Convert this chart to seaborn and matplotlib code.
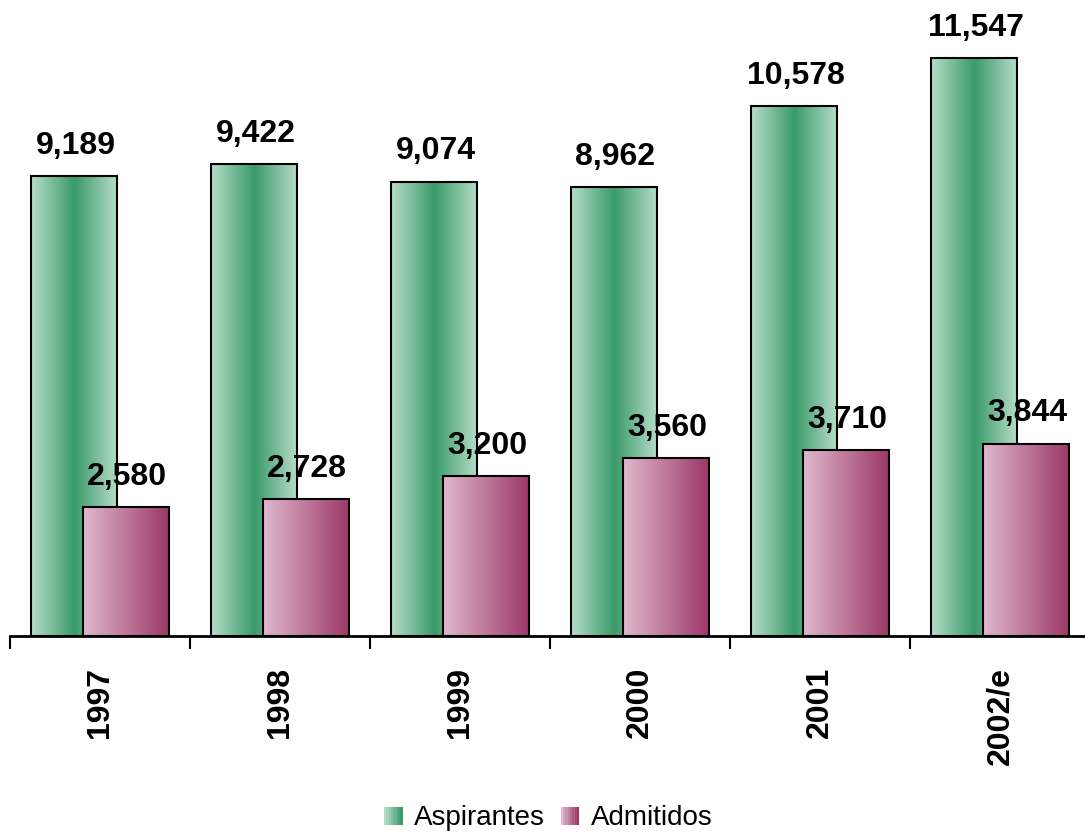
import numpy as np
import pandas as pd
import matplotlib
matplotlib.use('Agg')
import matplotlib.pyplot as plt
import seaborn as sns
from matplotlib.colors import LinearSegmentedColormap
from matplotlib.legend_handler import HandlerBase
from matplotlib.patches import Rectangle, Patch

# Data
years = ['1997', '1998', '1999', '2000', '2001', '2002/e']
aspirantes = [9189, 9422, 9074, 8962, 10578, 11547]
admitidos = [2580, 2728, 3200, 3560, 3710, 3844]
series_names = ['Aspirantes', 'Admitidos']

df = pd.DataFrame({
    'year': years * 2,
    'serie': ['Aspirantes'] * len(years) + ['Admitidos'] * len(years),
    'value': aspirantes + admitidos,
})

sns.set_style('white')
plt.rcParams['font.family'] = ['Liberation Sans', 'DejaVu Sans']
plt.rcParams['text.color'] = 'black'
plt.rcParams['xtick.color'] = 'black'
plt.rcParams['xtick.labelcolor'] = 'black'

green_cmap = LinearSegmentedColormap.from_list('g', ['#b7ddc9', '#3a9a6a', '#b7ddc9'])
green_half = LinearSegmentedColormap.from_list('gh', ['#b7ddc9', '#3a9a6a'])
pink_cmap = LinearSegmentedColormap.from_list('p', ['#e0b9cd', '#9b3767'])
cmaps = {'Aspirantes': green_cmap, 'Admitidos': pink_cmap}


class GradientHandler(HandlerBase):
    def __init__(self, cmap, n=8):
        super().__init__()
        self.cmap = cmap
        self.n = n

    def create_artists(self, legend, orig_handle, xdescent, ydescent,
                       width, height, fontsize, trans):
        side = height * 0.95
        x0 = -xdescent + width - side
        y0 = -ydescent
        w = side / self.n
        arts = []
        for i in range(self.n):
            r = Rectangle((x0 + i * w, y0), w * 1.05, side,
                          facecolor=self.cmap(i / (self.n - 1)),
                          edgecolor='none', transform=trans)
            arts.append(r)
        return arts


fig = plt.figure(figsize=(10.85, 8.34), dpi=100)
ax = fig.add_axes([10 / 1085, 198 / 834, 1080 / 1085, 636 / 834])

sns.barplot(data=df, x='year', y='value', hue='serie', order=years,
            hue_order=series_names, ax=ax, legend=False, errorbar=None)

bar_w = 0.478
offsets = {'Aspirantes': -0.144, 'Admitidos': 0.144}
patches = list(ax.patches)
n = len(years)
grad = np.linspace(0, 1, 256).reshape(1, -1)
for k, name in enumerate(series_names):
    for i in range(n):
        p = patches[k * n + i]
        h = p.get_height()
        x0 = i + offsets[name] - bar_w / 2
        p.set_x(x0)
        p.set_width(bar_w)
        p.set_facecolor('none')
        p.set_edgecolor('black')
        p.set_linewidth(1.5)
        p.set_zorder(2 + k + 0.5)
        ax.imshow(grad, extent=[x0, x0 + bar_w, 0, h], aspect='auto',
                  cmap=cmaps[name], zorder=2 + k, interpolation='bilinear')
        ax.annotate(f'{int(h):,}', (i + offsets[name], h), xytext=(1, 11),
                    textcoords='offset points', ha='center', va='bottom',
                    fontsize=23, fontweight='bold', color='black')

ax.set_xlim(-0.5, 5.5)
ax.set_ylim(0, 12705)
ax.set_xlabel('')
ax.set_ylabel('')
ax.set_yticks([])
ax.set_xticks(range(n))
ax.set_xticklabels(years, rotation=90, fontsize=23, fontweight='bold', color='black')
ax.set_xticks(np.arange(-0.5, n, 1.0), minor=True)
ax.tick_params(axis='x', which='major', length=0, pad=22)
ax.tick_params(axis='x', which='minor', length=9, width=1.5, color='black',
               direction='out', bottom=True)
for s in ['top', 'right', 'left']:
    ax.spines[s].set_visible(False)
ax.spines['bottom'].set_color('black')
ax.spines['bottom'].set_linewidth(2)
ax.set_facecolor('none')

handles = [Patch(label='Aspirantes'), Patch(label='Admitidos')]
fig.legend(handles=handles, labels=series_names, loc='center',
           bbox_to_anchor=(547 / 1085, 1 - 818 / 834), ncol=2, frameon=False,
           fontsize=20, handlelength=0.75, handletextpad=0.4, columnspacing=0.5,
           labelcolor='black',
           handler_map={handles[0]: GradientHandler(green_half),
                        handles[1]: GradientHandler(pink_cmap)})

fig.savefig('out.png', dpi=100)
